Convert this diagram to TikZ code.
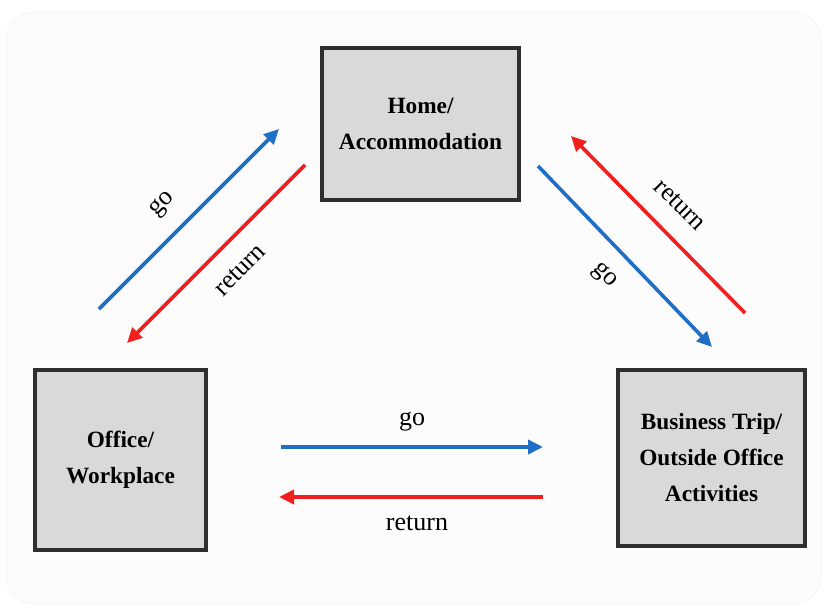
\documentclass[tikz,border=0pt]{standalone}
\usepackage{fontspec}
\setmainfont{Liberation Serif}
\usetikzlibrary{arrows.meta}
\definecolor{goblue}{HTML}{1F6FC6}
\definecolor{retred}{HTML}{F21F1F}
\definecolor{boxfill}{HTML}{D9D9D9}
\definecolor{boxline}{HTML}{2E2E2E}
\definecolor{bgfill}{HTML}{FCFCFC}
\definecolor{bgline}{HTML}{F6F6F6}
\begin{document}
\begin{tikzpicture}[x=1pt,y=-1pt,
  placebox/.style={draw=boxline,fill=boxfill,line width=3.2pt,inner sep=0pt,
    font=\fontsize{23.3}{36}\selectfont\bfseries,align=center},
  goline/.style={draw=goblue,line width=3.6pt,-{Triangle[length=15pt,width=14pt]}},
  retline/.style={draw=retred,line width=3.6pt,-{Triangle[length=15pt,width=14pt]}},
  lbl/.style={font=\fontsize{26}{30}\selectfont,inner sep=0pt}]
\useasboundingbox (0,0) rectangle (826,610);
\fill[bgfill,draw=bgline,line width=1pt,rounded corners=28pt] (6,12) rectangle (821,604);

\node[placebox,minimum width=197pt,minimum height=152pt] (home) at (420.5,124) {Home/\\Accommodation};
\node[placebox,minimum width=171pt,minimum height=180pt] (office) at (120.5,460) {Office/\\Workplace};
\node[placebox,minimum width=187pt,minimum height=176pt] (biz) at (711.5,458) {Business Trip/\\Outside Office\\Activities};

\coordinate (lgoA) at (99,309);   \coordinate (lgoB) at (279,129);
\coordinate (lretA) at (305,165); \coordinate (lretB) at (127,343);
\coordinate (rretA) at (745,313); \coordinate (rretB) at (571,136);
\coordinate (rgoA) at (538,166);  \coordinate (rgoB) at (712,347);
\coordinate (bgoA) at (281,447);  \coordinate (bgoB) at (543,447);
\coordinate (bretA) at (543,497); \coordinate (bretB) at (279,497);

\draw[goline] (lgoA) -- (lgoB);
\draw[retline] (lretA) -- (lretB);
\draw[retline] (rretA) -- (rretB);
\draw[goline] (rgoA) -- (rgoB);
\draw[goline] (bgoA) -- (bgoB);
\draw[retline] (bretA) -- (bretB);

\node[lbl,rotate=45] (l1) at (163,205) {go};
\node[lbl,rotate=45] (l2) at (240,270) {return};
\node[lbl,rotate=-45] (l3) at (680,205) {return};
\node[lbl,rotate=-45] (l4) at (604,276) {go};
\node[lbl] (l5) at (412,422) {go};
\node[lbl] (l6) at (417,523) {return};
\end{tikzpicture}
\end{document}
